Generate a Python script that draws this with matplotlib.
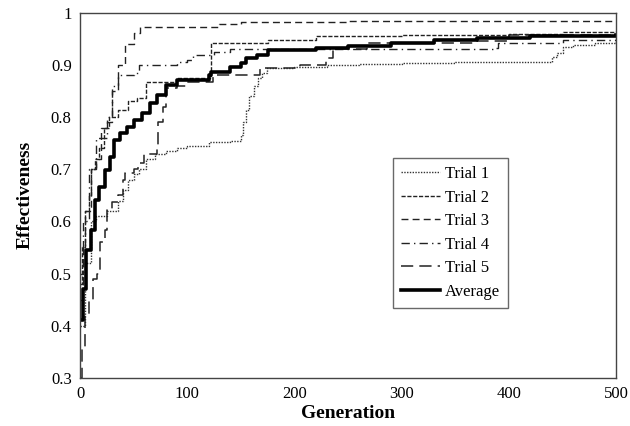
import matplotlib
matplotlib.use("Agg")
import matplotlib.pyplot as plt

plt.rcParams['font.family'] = ['Liberation Serif', 'DejaVu Serif']

# Generation / effectiveness (step curves)
gen_t1 = [0, 5, 10, 15, 20, 25, 30, 35, 40, 45, 50, 55, 62, 70, 80, 90, 100, 120, 140, 150, 152, 155, 158, 162, 166, 170, 174, 200, 230, 260, 300, 350, 380, 420, 436, 440, 445, 450, 460, 480, 500]
val_t1 = [0.40, 0.52, 0.60, 0.61, 0.61, 0.62, 0.62, 0.64, 0.66, 0.68, 0.69, 0.70, 0.72, 0.73, 0.735, 0.74, 0.745, 0.753, 0.755, 0.766, 0.79, 0.814, 0.84, 0.86, 0.875, 0.885, 0.894, 0.896, 0.90, 0.902, 0.904, 0.905, 0.905, 0.906, 0.906, 0.915, 0.923, 0.935, 0.938, 0.942, 0.945]

gen_t2 = [0, 2, 5, 8, 10, 14, 18, 22, 27, 35, 45, 53, 62, 82, 90, 120, 122, 175, 220, 300, 400, 450, 500]
val_t2 = [0.48, 0.55, 0.62, 0.65, 0.70, 0.72, 0.74, 0.78, 0.80, 0.814, 0.83, 0.837, 0.868, 0.868, 0.875, 0.875, 0.942, 0.948, 0.955, 0.958, 0.960, 0.963, 0.965]

gen_t3 = [0, 3, 5, 10, 15, 20, 25, 30, 35, 42, 50, 56, 125, 130, 150, 250, 500]
val_t3 = [0.50, 0.55, 0.62, 0.70, 0.72, 0.78, 0.79, 0.85, 0.90, 0.94, 0.962, 0.972, 0.972, 0.978, 0.982, 0.985, 0.985]

gen_t4 = [0, 3, 8, 15, 25, 30, 35, 50, 55, 90, 100, 105, 125, 140, 385, 390, 450, 500]
val_t4 = [0.45, 0.60, 0.70, 0.76, 0.80, 0.86, 0.88, 0.885, 0.90, 0.905, 0.91, 0.92, 0.925, 0.931, 0.933, 0.942, 0.948, 0.952]

gen_t5 = [0, 2, 5, 8, 12, 16, 19, 23, 25, 30, 35, 40, 42, 50, 54, 60, 72, 73, 77, 80, 90, 100, 124, 168, 205, 229, 236, 268, 370, 400, 500]
val_t5 = [0.30, 0.36, 0.42, 0.45, 0.49, 0.50, 0.56, 0.584, 0.622, 0.638, 0.651, 0.68, 0.693, 0.70, 0.712, 0.73, 0.74, 0.79, 0.82, 0.856, 0.86, 0.868, 0.881, 0.894, 0.90, 0.914, 0.931, 0.942, 0.945, 0.958, 0.960]

gen_avg = [0, 3, 6, 10, 14, 18, 23, 28, 32, 37, 44, 50, 58, 65, 72, 80, 90, 120, 122, 140, 150, 155, 165, 175, 200, 220, 250, 290, 330, 370, 420, 500]
val_avg = [0.41, 0.47, 0.545, 0.584, 0.641, 0.666, 0.699, 0.724, 0.756, 0.77, 0.781, 0.795, 0.808, 0.827, 0.843, 0.862, 0.871, 0.881, 0.887, 0.896, 0.904, 0.914, 0.92, 0.929, 0.929, 0.933, 0.937, 0.942, 0.948, 0.952, 0.955, 0.958]

labels = ["Trial 1", "Trial 2", "Trial 3", "Trial 4", "Trial 5", "Average"]
x_ticks = [0, 100, 200, 300, 400, 500]
y_ticks = [0.3, 0.4, 0.5, 0.6, 0.7, 0.8, 0.9, 1.0]
y_ticklabels = ["0.3", "0.4", "0.5", "0.6", "0.7", "0.8", "0.9", "1"]

fig = plt.figure(figsize=(6.3, 4.26), dpi=100)
ax = fig.add_axes([0.127, 0.113, 0.851, 0.857])

series = [(gen_t1, val_t1, dict(ls=(0, (1, 1)), lw=1.0, color='#333333')),
          (gen_t2, val_t2, dict(ls=(0, (3, 1.2)), lw=1.0, color='#222222')),
          (gen_t3, val_t3, dict(ls=(0, (5, 3)), lw=1.0, color='#222222')),
          (gen_t4, val_t4, dict(ls=(0, (6, 3, 1, 3)), lw=1.0, color='#222222')),
          (gen_t5, val_t5, dict(ls=(0, (8, 4)), lw=1.1, color='#222222')),
          (gen_avg, val_avg, dict(ls='-', lw=2.6, color='black'))]

for (g, v, st), lab in zip(series, labels):
    ax.plot(g, v, drawstyle='steps-post', label=lab, **st)

ax.set_xlim(0, 500)
ax.set_ylim(0.3, 1.0)
ax.set_xticks(x_ticks)
ax.set_xticklabels([str(t) for t in x_ticks])
ax.set_yticks(y_ticks)
ax.set_yticklabels(y_ticklabels)
ax.tick_params(length=0, labelsize=12, pad=6)
for s in ax.spines.values():
    s.set_color('#444444')
    s.set_linewidth(1.0)

ax.set_xlabel("Generation", fontsize=14, fontweight='bold', labelpad=2)
ax.set_ylabel("Effectiveness", fontsize=14, fontweight='bold', labelpad=12)

leg = ax.legend(loc='upper left', bbox_to_anchor=(0.584, 0.603), fontsize=12,
                frameon=True, fancybox=False, edgecolor='#444444',
                handlelength=2.3, handletextpad=0.3, labelspacing=0.45,
                borderpad=0.5, borderaxespad=0)
leg.get_frame().set_linewidth(1.0)

fig.savefig("out.png", dpi=100)
